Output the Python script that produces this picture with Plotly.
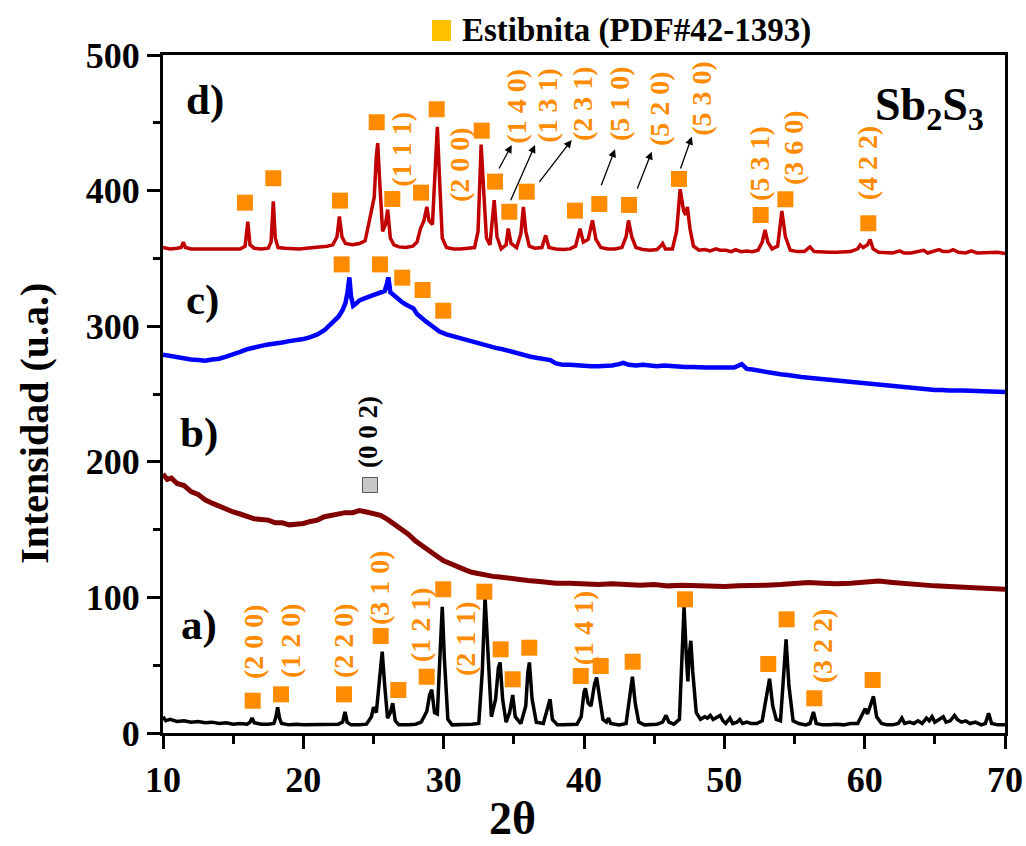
import plotly.graph_objects as go

# ---------------- XRD patterns (2θ, intensity in u.a.) ----------------
a_2theta = [10.0, 10.2, 10.5, 11.0, 11.5, 12.0, 12.5, 13.0, 13.5, 14.0, 14.5, 15.0, 15.5, 16.0, 16.2, 16.35, 16.5,
            17.0, 17.5, 17.9, 18.05, 18.17, 18.3, 18.45, 19.0, 19.5, 20.0, 20.5, 21.0, 21.5, 22.0, 22.5, 22.8,
            22.97, 23.12, 23.4, 24.0, 24.5, 24.85, 25.0, 25.2, 25.45, 25.62, 25.8, 26.0, 26.2, 26.37, 26.55,
            26.8, 27.5, 28.0, 28.4, 28.65, 28.8, 29.0, 29.15, 29.35, 29.55, 29.75, 29.9, 30.05, 30.3, 30.6,
            31.0, 31.5, 32.0, 32.5, 32.75, 32.95, 33.15, 33.4, 33.7, 33.9, 34.02, 34.2, 34.45, 34.7, 34.92,
            35.1, 35.5, 35.85, 36.0, 36.11, 36.3, 36.6, 37.1, 37.4, 37.58, 37.75, 38.1, 38.5, 39.0, 39.5, 39.8,
            40.0, 40.1, 40.3, 40.5, 40.75, 40.9, 41.1, 41.35, 41.6, 41.75, 41.9, 42.5, 43.0, 43.25, 43.45,
            43.65, 43.9, 44.3, 44.8, 45.2, 45.6, 45.85, 46.05, 46.4, 46.8, 47.0, 47.13, 47.3, 47.4, 47.5,
            47.61, 47.75, 48.0, 48.3, 48.6, 48.8, 49.0, 49.2, 49.5, 49.7, 49.9, 50.1, 50.4, 50.6, 50.9, 51.1,
            51.3, 51.6, 51.9, 52.3, 52.7, 53.0, 53.22, 53.45, 53.7, 54.0, 54.2, 54.4, 54.6, 54.9, 55.3, 55.8,
            56.1, 56.35, 56.55, 57.0, 57.5, 58.0, 58.5, 59.0, 59.5, 59.85, 60.04, 60.2, 60.45, 60.63, 60.85,
            61.2, 61.6, 62.0, 62.4, 62.65, 62.85, 63.2, 63.5, 63.8, 64.1, 64.4, 64.6, 64.8, 65.0, 65.3, 65.6,
            65.8, 66.1, 66.4, 66.6, 66.9, 67.2, 67.5, 67.9, 68.3, 68.6, 68.83, 69.05, 69.5, 70.0]
a_counts = [12, 9, 10, 8.5, 9, 8, 8.5, 7.5, 8, 7, 7.5, 6.5, 7, 6.5, 8, 11, 7.5,
            6.5, 6.5, 7, 12, 19, 11, 7, 6, 6.5, 6, 6, 6.5, 6, 6, 6.5, 8,
            15.5, 8, 6, 6, 6.5, 12, 19, 15, 40, 60, 35, 11, 15, 22, 9,
            6, 6, 6.5, 8, 14, 16, 28, 32, 15, 14, 60, 93, 55, 10, 6,
            6, 6, 6.5, 7, 45, 100, 55, 12, 25, 48, 52, 25, 8, 15, 28,
            12, 7, 20, 45, 52, 25, 8, 7, 18, 25, 10, 6, 6, 6, 6.5, 12,
            30, 33, 22, 20, 36, 41, 25, 10, 8, 11, 7, 6, 7, 25, 41.5,
            22, 8, 6, 6, 6.5, 8, 13, 8, 6.5, 10, 60, 93, 55, 38, 58,
            68, 45, 15, 10, 12, 11, 13, 10, 12, 13, 9, 7, 11, 7, 8, 10,
            7, 8, 7, 7, 9, 25, 40, 20, 10, 9, 40, 69, 35, 9, 7, 6,
            7, 15.5, 7, 6, 6, 6.5, 6, 7, 7, 15, 18, 14, 22, 27, 12,
            7, 6, 6, 7, 11, 7, 8, 7, 9, 7, 11, 9, 12, 8, 10, 12,
            8, 9, 13, 10, 8, 9, 7, 8, 6, 7, 14.5, 7, 6, 6]

b_2theta = [10.0, 10.3, 10.6, 11.0, 11.5, 12.0, 12.5, 13.0, 13.5, 14.0, 14.5, 15.0, 15.5, 16.0, 16.5, 17.0,
            17.5, 18.0, 18.5, 19.0, 19.5, 20.0, 20.5, 21.0, 21.5, 22.0, 22.5, 23.0, 23.5, 24.0, 24.5, 25.0,
            25.5, 26.0, 26.5, 27.0, 27.5, 28.0, 28.5, 29.0, 29.5, 30.0, 30.5, 31.0, 31.5, 32.0, 32.5, 33.0,
            33.5, 34.0, 35.0, 36.0, 37.0, 38.0, 39.0, 40.0, 41.0, 42.0, 43.0, 44.0, 45.0, 46.0, 47.0, 48.0,
            49.0, 50.0, 51.0, 52.0, 53.0, 54.0, 55.0, 56.0, 57.0, 58.0, 59.0, 60.0, 61.0, 62.0, 63.0, 64.0,
            65.0, 66.0, 67.0, 68.0, 69.0, 70.0]
b_counts = [191, 187, 188, 184, 182.5, 178, 176, 172, 169.5, 167, 165.5, 163, 161.5, 160, 158, 157.5,
            157, 155, 155, 153.5, 154, 154.5, 156, 157, 159.5, 160.5, 161, 162.5, 162.5, 164, 163, 162,
            160.5, 157.5, 154, 150, 146.5, 141.5, 137.5, 133.5, 130.5, 127, 124.5, 122, 120.5, 118.5, 117.5, 116,
            115.5, 115, 113.5, 112.5, 111.5, 110.5, 110.5, 110, 109.5, 110, 109.5, 109, 109.5, 108.5, 109, 108.5,
            108, 108, 108.5, 108.5, 109, 109.5, 110.5, 111, 110.5, 110, 110.5, 111.5, 112, 111, 110, 109,
            108.5, 108, 107.5, 107, 106.5, 106]

c_2theta = [10.0, 10.5, 11.0, 11.5, 12.0, 12.5, 13.0, 13.5, 14.0, 14.5, 15.0, 15.5, 16.0, 16.5, 17.0, 17.5,
            18.0, 18.5, 19.0, 19.5, 20.0, 20.5, 21.0, 21.5, 22.0, 22.5, 22.8, 23.0, 23.15, 23.28, 23.4, 23.55,
            23.8, 24.0, 24.5, 25.0, 25.5, 25.8, 25.95, 26.06, 26.2, 26.5, 26.8, 27.0, 27.3, 27.6, 27.85, 28.1,
            28.4, 28.8, 29.2, 29.7, 30.2, 30.7, 31.2, 31.7, 32.2, 32.7, 33.2, 33.7, 34.2, 34.7, 35.2, 35.7,
            36.2, 36.7, 37.2, 37.6, 38.0, 38.5, 39.0, 39.5, 40.0, 40.5, 41.0, 41.5, 42.0, 42.5, 42.8, 43.2,
            43.7, 44.2, 44.7, 45.2, 45.7, 46.2, 46.7, 47.2, 47.7, 48.2, 48.7, 49.2, 49.7, 50.2, 50.7, 51.24,
            51.6, 52.0, 52.5, 53.0, 53.5, 54.0, 54.5, 55.0, 55.5, 56.0, 56.5, 57.0, 57.5, 58.0, 58.5, 59.0,
            59.5, 60.0, 60.5, 61.0, 61.5, 62.0, 62.5, 63.0, 63.5, 64.0, 64.5, 65.0, 65.5, 66.0, 67.0, 68.0,
            69.0, 70.0]
c_counts = [279, 278, 277.5, 276, 275.5, 275, 274.5, 275.5, 276, 277.5, 279, 281, 283, 284.5, 285.5, 286.5,
            287, 288, 289, 289.5, 290.5, 292, 294, 297, 301.5, 307, 312, 317, 325, 336, 322, 315,
            317, 319, 321, 323, 325, 326, 331, 336, 325, 322, 319, 318, 316, 314, 313, 309,
            306, 303, 300, 296, 294, 292.5, 291, 290, 288.5, 287, 285.5, 284, 283, 281.5, 280, 279,
            277.5, 276.5, 275.5, 275, 272.5, 271.5, 271.5, 271, 271, 270.5, 270.5, 270.5, 271, 272, 273, 271.5,
            271, 271.5, 271, 270.5, 271, 270.5, 270, 270, 270, 269.5, 269.5, 269.5, 269.5, 269, 269.5, 272,
            268.5, 268, 267, 266, 265, 264.5, 264, 263, 262.5, 262, 261.5, 260.5, 260, 259.5, 259, 258.5,
            258, 257.5, 257, 256.5, 256, 255.5, 255, 254.5, 254, 254, 253.5, 253, 253, 252.5, 252.5, 252,
            251.5, 251.5]

d_2theta = [10.0, 10.5, 11.0, 11.3, 11.45, 11.6, 12.0, 12.5, 13.0, 13.5, 14.0, 14.5, 15.0, 15.5, 15.85, 16.04,
            16.2, 16.5, 17.0, 17.5, 17.7, 17.86, 18.0, 18.2, 18.7, 19.2, 19.7, 20.2, 20.7, 21.2, 21.7, 22.1,
            22.4, 22.57, 22.75, 23.0, 23.5, 24.0, 24.4, 24.65, 24.85, 25.05, 25.2, 25.3, 25.45, 25.65, 25.85,
            26.01, 26.2, 26.45, 26.8, 27.3, 27.8, 28.1, 28.35, 28.6, 28.8, 28.95, 29.2, 29.4, 29.55, 29.7,
            29.9, 30.2, 30.7, 31.2, 31.7, 32.2, 32.45, 32.67, 32.85, 33.05, 33.3, 33.45, 33.6, 33.8, 34.1,
            34.45, 34.6, 34.8, 35.2, 35.5, 35.68, 35.85, 36.1, 36.5, 37.0, 37.27, 37.5, 38.0, 38.5, 39.0,
            39.4, 39.72, 39.95, 40.3, 40.6, 40.85, 41.2, 41.7, 42.2, 42.7, 43.0, 43.17, 43.4, 43.7, 44.2,
            44.7, 45.2, 45.45, 45.6, 45.8, 46.3, 46.6, 46.85, 47.1, 47.25, 47.37, 47.55, 47.8, 48.2, 48.6,
            49.0, 49.4, 49.7, 50.1, 50.5, 50.8, 51.2, 51.6, 52.0, 52.4, 52.7, 52.9, 53.1, 53.4, 53.8, 54.1,
            54.35, 54.7, 55.2, 55.7, 56.1, 56.4, 57.0, 57.5, 58.0, 58.5, 59.0, 59.5, 59.68, 59.9, 60.2,
            60.39, 60.6, 61.0, 61.5, 62.0, 62.5, 62.8, 63.3, 63.8, 64.2, 64.5, 64.9, 65.3, 65.6, 66.0, 66.3,
            66.7, 67.2, 67.6, 68.0, 68.5, 69.0, 69.5, 70.0]
d_counts = [358, 357, 357.5, 358, 362, 358, 357, 357, 357.5, 357, 357, 357.5, 357, 357, 359, 377,
            360, 357.5, 357, 357.5, 362, 392, 365, 358, 357.5, 357, 357, 357.5, 358, 358, 359, 360,
            366, 381, 366, 361, 360, 361, 363, 375, 386, 395, 425, 435, 405, 370, 375,
            386, 365, 360, 358.5, 358, 359, 362, 372, 378, 388, 378, 375, 420, 447, 410,
            365, 358, 357, 357, 357.5, 358, 370, 434, 400, 365, 360, 375, 393, 366, 357,
            360, 372, 361, 358, 368, 388, 370, 359, 357.5, 358, 367, 358, 357, 356.5, 357,
            359, 372, 362, 364, 378, 364, 358, 357, 357, 358, 366, 378, 366, 358, 356.5,
            356, 356.5, 359, 361, 357, 357, 370, 401, 385, 382, 388, 372, 359, 356, 356.5,
            355.5, 357, 356, 356, 355, 356.5, 355, 355.5, 355, 356, 362, 371, 362, 357, 359, 385,
            366, 356, 355, 355, 358.5, 355, 354.5, 354.5, 354.5, 355, 355, 357, 360, 358, 360,
            364, 357, 354.5, 354, 354, 355.5, 354, 354, 355, 356, 354, 355, 356.5, 355, 355, 356.5,
            354.5, 354, 355.5, 354, 354, 354, 354.5, 353.5]

# ---------------- Estibnita reflection markers ----------------
sq_a_2theta = [16.39, 18.41, 22.9, 25.51, 26.77, 28.79, 29.97, 32.9, 34.06, 34.92, 36.1, 39.77, 41.19,
               43.47, 47.2, 53.13, 54.44, 56.41, 60.57]
sq_a_y = [23.8, 28.5, 28.5, 71.5, 31.7, 41.5, 106, 104.2, 61.7, 39.6, 62.9, 42, 49.4,
          52.6, 98.6, 50.9, 83.8, 25.6, 39.1]
sq_c_2theta = [22.73, 25.46, 27.05, 28.5, 29.97]
sq_c_y = [345.6, 345.6, 335.8, 326.7, 311.4]
sq_d_2theta = [15.84, 17.86, 22.61, 25.23, 26.34, 28.39, 29.5, 32.71, 33.66, 34.68, 35.92, 39.36, 41.09,
               43.21, 46.77, 52.59, 54.35, 60.26]
sq_d_y = [391.1, 409.1, 392.6, 450.4, 393.8, 398.5, 460.0, 444.2, 406.6, 384.4, 399.2, 385.2, 390.1,
          389.4, 408.6, 382.0, 393.6, 375.9]

# Miller indices: (text, 2θ, y)
hkl_a = [("(2 0 0)", 16.41, 67.8), ("(1 2 0)", 19.05, 67.8), ("(2 2 0)", 22.83, 67.8),
         ("(3 1 0)", 25.47, 107.0), ("(1 2 1)", 28.32, 79.6), ("(2 1 1)", 31.52, 69.3),
         ("(1 4 1)", 39.94, 77.4), ("(3 2 2)", 57.06, 64.2)]
hkl_d = [("(1 1 1)", 27.01, 430.7), ("(2 0 0)", 31.17, 418.9), ("(1 4 0)", 35.2, 462.4),
         ("(1 3 1)", 37.34, 463.1), ("(2 3 1)", 39.93, 463.9), ("(5 1 0)", 42.57, 463.9),
         ("(5 2 0)", 45.42, 460.2), ("(5 3 0)", 48.39, 468.3), ("(5 3 1)", 52.54, 420.4),
         ("(3 6 0)", 54.9, 431.4), ("(4 2 2)", 60.26, 420.4)]
# pointer arrows: (tail 2θ, tail y, head 2θ, head y)
hkl_arrows = [(33.89, 415.2, 34.85, 433.6), (34.73, 391.8, 36.51, 433.6), (36.74, 405.4, 39.12, 437.3),
              (41.19, 402.9, 42.21, 430.5), (43.76, 400.4, 44.83, 428.7), (46.84, 415.2, 47.68, 439.7)]

panel_labels = [("a)", 12.6, 79.6), ("b)", 12.6, 221), ("c)", 12.85, 319), ("d)", 13.0, 466.8)]

ORANGE = "#FF8C00"
SERIF = "Liberation Serif"

fig = go.Figure()

for xs, ys, col, w in [(a_2theta, a_counts, "#000000", 3.5), (b_2theta, b_counts, "#800000", 5),
                       (c_2theta, c_counts, "#0000FF", 4.5), (d_2theta, d_counts, "#C00000", 3.5)]:
    fig.add_trace(go.Scatter(x=xs, y=ys, mode="lines", line=dict(color=col, width=w),
                             showlegend=False, hoverinfo="skip"))

for xs, ys in [(sq_a_2theta, sq_a_y), (sq_c_2theta, sq_c_y), (sq_d_2theta, sq_d_y)]:
    fig.add_trace(go.Scatter(x=xs, y=ys, mode="markers",
                             marker=dict(symbol="square", size=16, color=ORANGE, line=dict(width=0)),
                             showlegend=False, hoverinfo="skip", cliponaxis=False))

# (0 0 2) reflection marker
fig.add_trace(go.Scatter(x=[24.75], y=[182.9], mode="markers",
                         marker=dict(symbol="square", size=15, color="#C8C8C8",
                                     line=dict(width=1, color="#555555")),
                         showlegend=False, hoverinfo="skip"))

annotations = []
for txt, x, y in hkl_a + hkl_d:
    annotations.append(dict(x=x, y=y, text=txt, textangle=-90, showarrow=False,
                            xanchor="center", yanchor="middle",
                            font=dict(family=SERIF, size=28, color=ORANGE, weight="bold")))
annotations.append(dict(x=24.61, y=222, text="(0 0 2)", textangle=-90, showarrow=False,
                        xanchor="center", yanchor="middle",
                        font=dict(family=SERIF, size=27, color="#000000", weight="bold")))
for tx, ty, hx, hy in hkl_arrows:
    annotations.append(dict(x=hx, y=hy, ax=tx, ay=ty, xref="x", yref="y", axref="x", ayref="y",
                            text="", showarrow=True, arrowhead=2, arrowsize=1.2, arrowwidth=1.3,
                            arrowcolor="#000000"))
for txt, x, y in panel_labels:
    annotations.append(dict(x=x, y=y, text=txt, showarrow=False, xanchor="center", yanchor="middle",
                            font=dict(family=SERIF, size=43, color="#000000", weight="bold")))
annotations.append(dict(x=64.6, y=461, text="Sb<sub>2</sub>S<sub>3</sub>", showarrow=False,
                        xanchor="center", yanchor="middle",
                        font=dict(family=SERIF, size=46, color="#000000", weight="bold")))
# phase key above the frame
annotations.append(dict(x=0.3527, y=1.0354, xref="paper", yref="paper", text="Estibnita (PDF#42-1393)",
                        showarrow=False, xanchor="left", yanchor="middle",
                        font=dict(family=SERIF, size=33, color="#000000", weight="bold")))
# axis titles
annotations.append(dict(x=0.4145, y=-0.1667, xref="paper", yref="paper", text="2θ",
                        showarrow=False, xanchor="center", yanchor="bottom",
                        font=dict(family=SERIF, size=46, color="#000000", weight="bold")))
annotations.append(dict(x=-0.152, y=0.456, xref="paper", yref="paper", text="Intensidad (u.a.)",
                        textangle=-90, showarrow=False, xanchor="center", yanchor="middle",
                        font=dict(family=SERIF, size=40, color="#000000", weight="bold")))

shapes = [dict(type="rect", xref="paper", yref="paper", x0=0.3195, x1=0.342, y0=1.0206, y1=1.0516,
               fillcolor="#FFC000", line=dict(width=0))]

axis_common = dict(showline=True, linewidth=3, linecolor="#000000", mirror=True, showgrid=False,
                   zeroline=False, ticks="outside", ticklen=13, tickwidth=3, tickcolor="#000000",
                   tickfont=dict(family=SERIF, size=36, color="#000000", weight="bold"))

fig.update_layout(
    width=1026, height=846,
    margin=dict(l=163, r=21, t=55, b=113, autoexpand=False),
    paper_bgcolor="white", plot_bgcolor="white",
    font=dict(family=SERIF, color="#000000"),
    annotations=annotations,
    shapes=shapes,
    showlegend=False,
    xaxis=dict(range=[10, 70], dtick=10, tick0=10,
               minor=dict(dtick=5, ticks="outside", ticklen=8, tickwidth=3, tickcolor="#000000"),
               **axis_common),
    yaxis=dict(range=[0, 500], dtick=100, tick0=0,
               minor=dict(dtick=50, ticks="outside", ticklen=7, tickwidth=3, tickcolor="#000000"),
               **axis_common),
)

fig.write_html("out.html")
